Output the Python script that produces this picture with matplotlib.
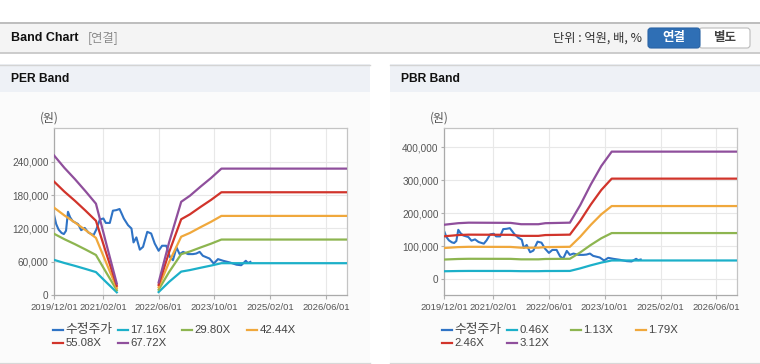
import numpy as np
import pandas as pd
import matplotlib
matplotlib.use("Agg")
import matplotlib.pyplot as plt
import matplotlib.transforms as mtransforms
from matplotlib.patches import Rectangle, FancyBboxPatch
from matplotlib.lines import Line2D

W, H = 760, 364

# 수정주가 (adjusted close), same series in both charts
price_dates = ["2019-12-03", "2019-12-20", "2020-01-10", "2020-02-05", "2020-02-25",
               "2020-03-15", "2020-04-01", "2020-04-20", "2020-05-13", "2020-06-10",
               "2020-06-28", "2020-07-25", "2020-08-25", "2020-09-25", "2020-10-22",
               "2020-11-10", "2020-12-04", "2021-01-04", "2021-02-04", "2021-02-25",
               "2021-04-01", "2021-04-28", "2021-05-28", "2021-06-25", "2021-07-15",
               "2021-08-01", "2021-09-07", "2021-10-07", "2021-10-25", "2021-11-19",
               "2021-12-19", "2022-01-16", "2022-02-22", "2022-03-28", "2022-04-28",
               "2022-06-01", "2022-07-01", "2022-08-07", "2022-09-07", "2022-10-04",
               "2022-11-04", "2022-12-01", "2023-01-01", "2023-02-13", "2023-03-28",
               "2023-04-25", "2023-05-25", "2023-06-22", "2023-08-19", "2023-09-25",
               "2023-11-01", "2023-12-16", "2024-02-12", "2024-04-10", "2024-05-22",
               "2024-07-01", "2024-07-19", "2024-08-10"]
price = [143000, 128000, 118000, 112000, 110000,
         116000, 150000, 140000, 133000, 130000,
         128000, 117000, 121000, 113000, 110000,
         108000, 118000, 136000, 138000, 130000,
         130000, 152000, 153000, 155000, 146000,
         138000, 126000, 120000, 95000, 104000,
         82000, 87000, 114000, 111000, 93000,
         80000, 89000, 89000, 69000, 63000,
         86000, 74000, 78000, 74000, 74000,
         75000, 78000, 71000, 66000, 57000,
         65000, 62000, 59000, 55000, 54000,
         62000, 58000, 60000]

# EPS behind the PER band (no band while EPS is negative)
eps_dates = ["2019-12-01", "2020-03-01", "2020-06-01", "2020-09-01", "2020-12-01",
             "2021-03-01", "2021-06-01", "2022-01-01", "2022-06-01", "2022-09-01",
             "2022-12-15", "2023-03-01", "2023-06-01", "2023-09-01", "2023-12-01",
             "2026-12-01"]
eps = [3710, 3380, 3080, 2760, 2430,
       1370, 310, np.nan, 340, 1410,
       2480, 2640, 2880, 3110, 3360,
       3360]
per_mult = [17.16, 29.80, 42.44, 55.08, 67.72]

# BPS behind the PBR band
bps_dates = ["2019-12-01", "2020-04-01", "2020-07-01", "2021-07-01", "2021-10-01",
             "2022-03-01", "2022-05-01", "2022-12-01", "2023-03-01", "2023-06-01",
             "2023-09-01", "2023-12-01", "2026-12-01"]
bps = [53000, 54500, 55000, 54800, 53500,
       53500, 54500, 55000, 72000, 92000,
       110000, 124000, 124000]
pbr_mult = [0.46, 1.13, 1.79, 2.46, 3.12]

xtick_dates = ["2019-12-01", "2021-02-01", "2022-06-01", "2023-10-01", "2025-02-01", "2026-06-01"]
xtick_labels = [d.replace("-", "/") for d in xtick_dates]
per_yticks = [0, 60000, 120000, 180000, 240000]
pbr_yticks = [0, 100000, 200000, 300000, 400000]

price_color = "#2f73c5"
band_colors = ["#1cb0c9", "#8db550", "#f0a83c", "#d1342b", "#8f4f9c"]

FONT = ["Liberation Sans", "Noto Sans CJK KR"]
KFONT = ["Noto Sans CJK KR", "DejaVu Sans"]

fig = plt.figure(figsize=(W / 100, H / 100), dpi=100)
fig.patch.set_facecolor("white")
px = mtransforms.Affine2D().scale(1 / W, 1 / H) + fig.transFigure


def rect(x0, y0, x1, y1, color, z=0, **kw):
    # pixel box, y measured from top
    fig.add_artist(Rectangle((x0, H - y1), x1 - x0, y1 - y0, transform=px,
                             facecolor=color, edgecolor="none", zorder=z, **kw))


def hline(x0, x1, y, color, lw=1.0):
    fig.add_artist(Line2D([x0, x1], [H - y, H - y], transform=px, color=color, lw=lw))


def text(x, y, s, **kw):
    fig.text(x / W, 1 - y / H, s, **kw)


# top header bar
rect(0, 22, W, 53, "#f4f4f4")
hline(0, W, 22.5, "#b4b4b4", 1.2)
hline(0, W, 52.5, "#c4c4c4", 1.2)
text(11, 38, "Band Chart", fontsize=9, fontweight="bold", family=FONT,
     color="#111111", va="center")
text(88, 38, "[연결]", fontsize=8.8, family=KFONT, color="#8a8a8a", va="center")
text(642, 38, "단위 : 억원, 배, %", fontsize=8.8, family=KFONT, color="#333333",
     va="center", ha="right")
fig.add_artist(FancyBboxPatch((699, H - 48), 51, 20, transform=px,
                              boxstyle="round,pad=0,rounding_size=3",
                              facecolor="white", edgecolor="#bcbcbc", lw=0.8))
fig.add_artist(FancyBboxPatch((648, H - 48), 52, 20, transform=px,
                              boxstyle="round,pad=0,rounding_size=3",
                              facecolor="#2f6fb5", edgecolor="#2a64a5", lw=0.8))
text(674, 38, "연결", fontsize=9, family=KFONT, fontweight="bold", color="white",
     ha="center", va="center")
text(725, 38, "별도", fontsize=9, family=KFONT, fontweight="bold", color="#444444",
     ha="center", va="center")

# panels
for (x0, x1, title) in [(0, 370, "PER Band"), (390, 760, "PBR Band")]:
    rect(x0, 64, x1, 92, "#eef1f6")
    rect(x0, 92, x1, 362, "#fbfbfb")
    hline(x0, x1, 64.5, "#d4d4d4", 1.0)
    hline(x0, x1, 362.5, "#d8d8d8", 1.0)
    text(x0 + 11, 79, title, fontsize=8.7, fontweight="bold", family=FONT,
         color="#111111", va="center")


def make_axes(left, ymin, ymax, yticks):
    ax = fig.add_axes([left / W, 1 - 295.3 / H, 293 / W, (295.3 - 128) / H])
    ax.set_facecolor("white")
    ax.set_xlim(pd.Timestamp("2019-12-01"), pd.Timestamp("2026-12-01"))
    ax.set_ylim(ymin, ymax)
    ax.set_xticks(pd.to_datetime(xtick_dates))
    ax.set_xticklabels(xtick_labels, family=FONT, fontsize=6.8, color="#555555")
    ax.set_yticks(yticks)
    ax.set_yticklabels([f"{v:,}" for v in yticks], family=FONT, fontsize=7.2,
                       color="#555555")
    ax.grid(color="#e8e8e8", lw=0.8)
    ax.set_axisbelow(True)
    ax.tick_params(axis="x", length=3, width=0.8, color="#b0b0b0", pad=2.5)
    ax.tick_params(axis="y", length=2.5, width=0.8, color="#b0b0b0", pad=1.5)
    for s in ax.spines.values():
        s.set_color("#c4c4c4")
        s.set_linewidth(0.9)
    ax.spines["left"].set_color("#aaaaaa")
    ax.spines["bottom"].set_color("#aaaaaa")
    return ax


def draw(ax, base_dates, base, mults):
    ax.plot(pd.to_datetime(price_dates), price, color=price_color, lw=1.5, zorder=2)
    bd = pd.to_datetime(base_dates)
    for m, c in zip(mults, band_colors):
        ax.plot(bd, np.array(base, dtype=float) * m, color=c, lw=1.6, zorder=3)


ax1 = make_axes(54, 0, 300500, per_yticks)
draw(ax1, eps_dates, eps, per_mult)
ax2 = make_axes(444.3, -48500, 458500, pbr_yticks)
draw(ax2, bps_dates, bps, pbr_mult)

text(49, 118, "(원)", fontsize=8.5, family=KFONT, color="#555555", ha="center", va="center")
text(439, 118, "(원)", fontsize=8.5, family=KFONT, color="#555555", ha="center", va="center")


# legends
def legend(x0, labels):
    cols = [0, 65, 129, 194]
    items = [("수정주가", price_color)] + list(zip(labels, band_colors))
    for i, (lab, c) in enumerate(items):
        row, col = divmod(i, 4)
        x = x0 + cols[col]
        y = 330 + row * 13.3
        fig.add_artist(Line2D([x, x + 10], [H - y, H - y], transform=px, color=c, lw=1.6))
        if i == 0:
            text(x + 12.5, y, lab, fontsize=9.2, family=KFONT, color="#444444", va="center")
        else:
            text(x + 12.5, y, lab, fontsize=8.2, family=FONT, color="#444444", va="center")


legend(53, [f"{m:.2f}X" for m in per_mult])
legend(442, [f"{m:.2f}X" for m in pbr_mult])

fig.savefig("out.png", dpi=100, facecolor=fig.get_facecolor())
